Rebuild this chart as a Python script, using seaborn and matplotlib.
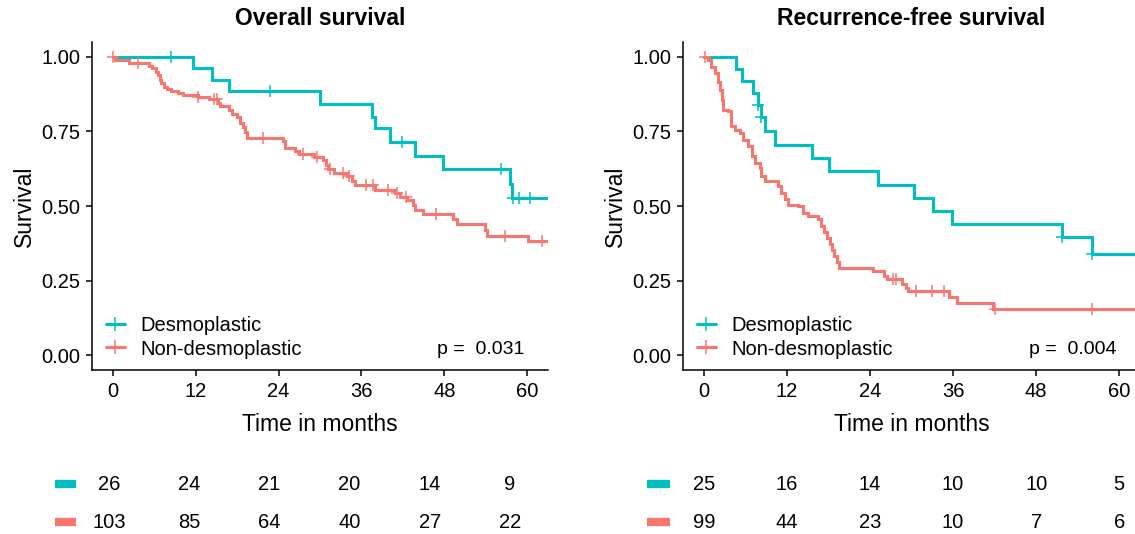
import numpy as np
import pandas as pd
import matplotlib
matplotlib.use("Agg")
import matplotlib.pyplot as plt
from matplotlib.lines import Line2D
import seaborn as sns

# colours (ggplot default hues)
TEAL = "#00BFC4"
RED = "#F8766D"

groups = ["Desmoplastic", "Non-desmoplastic"]

# ---- Overall survival: step times (months) and survival after each step ----
os_desmo_t = [0, 11.6, 14.4, 16.8, 30.0, 37.5, 38.0, 40.1, 43.8, 47.8, 57.5, 57.8]
os_desmo_s = [1.0, 0.962, 0.923, 0.885, 0.843, 0.80, 0.76, 0.716, 0.669, 0.625, 0.575, 0.528]
os_desmo_cens = [8.5, 22.7, 41.9, 56.2, 57.9, 58.8, 60.4]

os_non_t = [0, 0.3, 2.3, 5.3, 5.7, 6.2, 6.5, 6.8, 7.0, 7.4, 7.9, 8.4, 9.4, 10.1, 12.3,
            13.9, 15.3, 15.5, 16.8, 17.3, 18.0, 18.4, 18.8, 19.2, 19.5, 24.7, 25.0,
            26.4, 26.9, 29.1, 30.5, 30.8, 31.1, 32.0, 33.9, 34.7, 35.0, 38.0, 40.8,
            41.6, 42.6, 43.4, 43.7, 44.9, 49.3, 49.9, 53.9, 54.2, 60.1]
os_non_s = [1.0, 0.99, 0.98, 0.97, 0.962, 0.951, 0.94, 0.923, 0.913, 0.90, 0.893, 0.887,
            0.879, 0.872, 0.865, 0.858, 0.847, 0.834, 0.823, 0.809, 0.80, 0.78, 0.766,
            0.747, 0.729, 0.717, 0.696, 0.686, 0.674, 0.664, 0.653, 0.638, 0.624, 0.61,
            0.60, 0.583, 0.569, 0.553, 0.542, 0.531, 0.519, 0.505, 0.488, 0.472, 0.455,
            0.438, 0.419, 0.401, 0.382]
os_non_cens = [0.1, 3.7, 12.4, 14.6, 15.1, 21.8, 27.5, 29.6, 31.5, 33.4, 34.2, 36.7,
               37.6, 39.9, 41.2, 42.5, 46.8, 56.8, 62.1]

# ---- Recurrence-free survival ----
rfs_desmo_t = [0, 4.6, 5.5, 7.1, 7.9, 8.2, 8.9, 10.3, 15.6, 18.1, 25.2, 30.4, 33.1,
               35.8, 51.7, 56.1]
rfs_desmo_s = [1.0, 0.96, 0.92, 0.88, 0.84, 0.80, 0.752, 0.706, 0.661, 0.616, 0.572,
               0.527, 0.483, 0.441, 0.397, 0.34]
rfs_desmo_cens = [7.9, 8.3, 51.8, 56.1]

rfs_non_t = [0, 0.6, 1.1, 1.6, 2.1, 2.4, 2.6, 2.8, 3.5, 3.9, 4.5, 5.2, 5.7, 6.4, 6.9,
             7.4, 8.1, 8.3, 8.8, 10.7, 11.2, 11.7, 12.2, 13.6, 14.3, 15.1, 16.5, 17.0,
             17.4, 17.8, 18.2, 18.5, 18.8, 19.2, 19.6, 24.4, 26.0, 26.4, 28.6, 29.2,
             29.5, 35.4, 36.5, 41.7]
rfs_non_s = [1.0, 0.99, 0.967, 0.945, 0.917, 0.89, 0.856, 0.823, 0.817, 0.767, 0.756,
             0.745, 0.722, 0.70, 0.667, 0.644, 0.628, 0.60, 0.583, 0.566, 0.544, 0.522,
             0.505, 0.499, 0.477, 0.466, 0.455, 0.434, 0.414, 0.394, 0.374, 0.354,
             0.333, 0.313, 0.293, 0.282, 0.265, 0.254, 0.237, 0.226, 0.215, 0.196,
             0.176, 0.156]
rfs_non_cens = [0.2, 27.3, 27.7, 30.7, 33.0, 34.7, 42.1, 56.0]

follow_up_end = 66  # curves run past the axis limit

# numbers at risk at 0, 12, ..., 60 months
risk_times = [0, 12, 24, 36, 48, 60]
os_risk_desmo = [26, 24, 21, 20, 14, 9]
os_risk_non = [103, 85, 64, 40, 27, 22]
rfs_risk_desmo = [25, 16, 14, 10, 10, 5]
rfs_risk_non = [99, 44, 23, 10, 7, 6]

titles = ["Overall survival", "Recurrence-free survival"]
pvals = ["p =  0.031", "p =  0.004"]

sns.set_theme(style="ticks")
plt.rcParams["font.family"] = ["Liberation Sans", "DejaVu Sans"]
plt.rcParams["text.color"] = "black"
plt.rcParams["axes.labelcolor"] = "black"
plt.rcParams["xtick.color"] = "black"
plt.rcParams["ytick.color"] = "black"

W, H = 1135, 534
fig = plt.figure(figsize=(W / 100, H / 100), dpi=100)


def px_axes(x0, y0, x1, y1):
    # axes from pixel box (top-left origin)
    return fig.add_axes([x0 / W, 1 - y1 / H, (x1 - x0) / W, (y1 - y0) / H])


def km_frame(times, surv, group):
    t = list(times) + [follow_up_end]
    s = list(surv) + [surv[-1]]
    return pd.DataFrame({"time": t, "surv": s, "group": group})


def cens_frame(times, surv, cens, group):
    idx = np.searchsorted(np.array(times), np.array(cens), side="right") - 1
    return pd.DataFrame({"time": cens, "surv": np.array(surv)[idx], "group": group})


def draw_km(ax, curves, title, pval):
    df = pd.concat([km_frame(t, s, g) for t, s, c, g in curves])
    cdf = pd.concat([cens_frame(t, s, c, g) for t, s, c, g in curves])
    pal = dict(zip(groups, [TEAL, RED]))
    for g in groups:
        sub = df[df["group"] == g]
        ax.step(sub["time"], sub["surv"], where="post", color=pal[g], lw=2.2,
                solid_joinstyle="miter")
    sns.scatterplot(data=cdf, x="time", y="surv", hue="group", palette=pal,
                    marker="+", s=75, linewidth=1.1, legend=False, ax=ax, zorder=3)
    ax.set_xlim(-3, 63)
    ax.set_ylim(-0.05, 1.05)
    ax.set_xticks(risk_times)
    ax.set_yticks([0, 0.25, 0.5, 0.75, 1.0])
    ax.set_yticklabels(["0.00", "0.25", "0.50", "0.75", "1.00"])
    ax.set_xlabel("Time in months", fontsize=16.5, labelpad=9)
    ax.set_ylabel("Survival", fontsize=16.5, labelpad=4)
    ax.set_title(title, fontsize=16.5, fontweight="bold", pad=12)
    ax.tick_params(labelsize=14.5, length=4, width=1.1, pad=4.5)
    for sp in ["left", "bottom"]:
        ax.spines[sp].set_linewidth(1.1)
        ax.spines[sp].set_color("black")
    sns.despine(ax=ax)
    ax.grid(False)
    ax.text(47, 0.02, pval, fontsize=14, ha="left", va="center")
    handles = [Line2D([0], [0], color=c, lw=2.2, marker="+", markersize=10, mew=1.1)
               for c in [TEAL, RED]]
    ax.legend(handles, groups, loc="lower left", bbox_to_anchor=(0.03, 0.035),
              frameon=False, fontsize=14.5, handlelength=0.95, handletextpad=0.75,
              labelspacing=0.2, borderaxespad=0, borderpad=0)


def draw_risk(ax, desmo, non):
    ax.set_xlim(-3, 63)
    ax.set_ylim(0, 1)
    ax.axis("off")
    for row, (vals, col) in enumerate([(desmo, TEAL), (non, RED)]):
        y = 0.735 - row * 0.56
        for t, v in zip(risk_times, vals):
            ax.text(t, y, str(v), ha="center", va="center", fontsize=14.5)


ax1 = px_axes(92, 42, 548, 370)
draw_km(ax1, [(os_desmo_t, os_desmo_s, os_desmo_cens, groups[0]),
              (os_non_t, os_non_s, os_non_cens, groups[1])], titles[0], pvals[0])
ax2 = px_axes(683, 42, 1140, 370)
draw_km(ax2, [(rfs_desmo_t, rfs_desmo_s, rfs_desmo_cens, groups[0]),
              (rfs_non_t, rfs_non_s, rfs_non_cens, groups[1])], titles[1], pvals[1])

t1 = px_axes(89, 466, 530, 534)
draw_risk(t1, os_risk_desmo, os_risk_non)
t2 = px_axes(683, 466, 1140, 534)
draw_risk(t2, rfs_risk_desmo, rfs_risk_non)

# colour keys beside the risk table rows
for x0, x1 in [(55, 76), (647, 670)]:
    for yy, col in [(484, TEAL), (522, RED)]:
        fig.add_artist(Line2D([x0 / W, x1 / W], [1 - yy / H, 1 - yy / H],
                              color=col, lw=6, solid_capstyle="butt"))

fig.savefig("out.png", dpi=100)
